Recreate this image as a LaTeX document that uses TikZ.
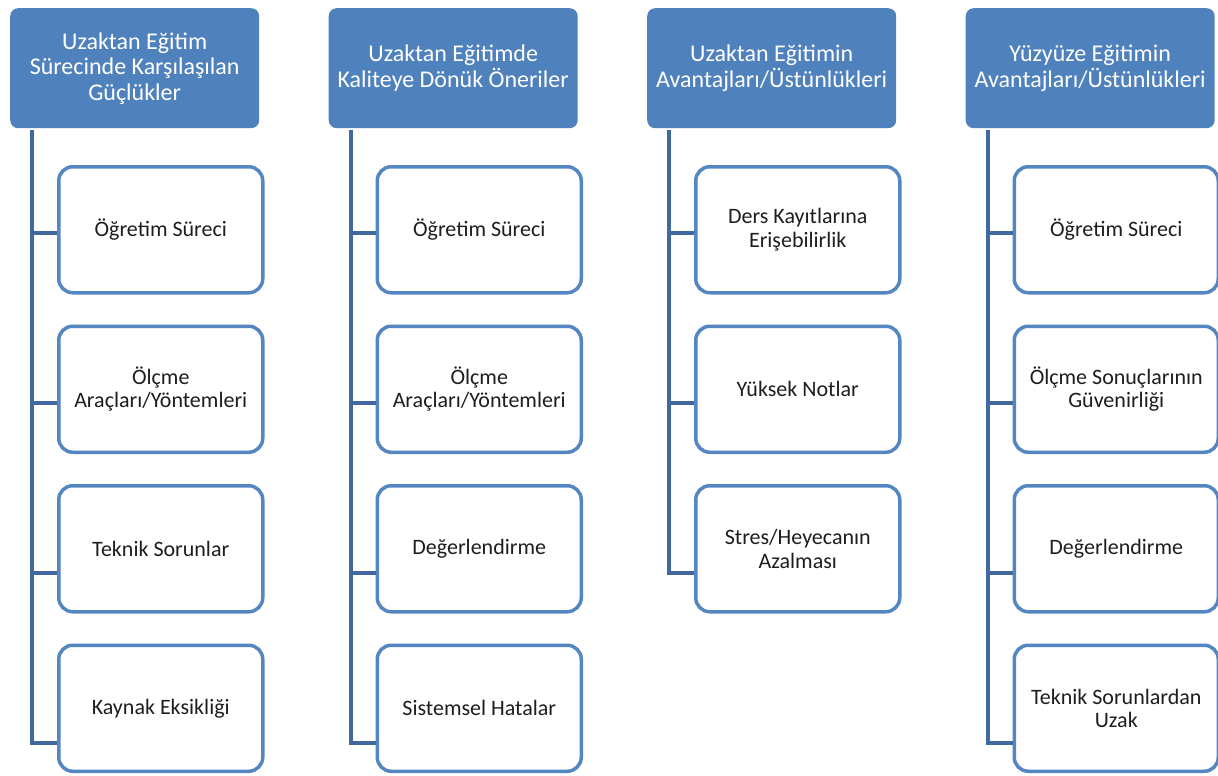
\documentclass[tikz,border=0pt]{standalone}
\usepackage{fontspec}
\setmainfont{Carlito}
\definecolor{hdr}{RGB}{79,129,189}
\definecolor{bx}{RGB}{84,134,194}
\definecolor{conn}{RGB}{65,105,160}
\definecolor{txt}{RGB}{30,30,30}
\begin{document}
\begin{tikzpicture}[x=1pt,y=-1pt,
  hdrbox/.style={rectangle,rounded corners=8pt,fill=hdr,draw=none,minimum width=249pt,minimum height=120pt,
    inner sep=0pt,align=center,text=white,font=\fontsize{24}{25.5}\selectfont,anchor=north west},
  childbox/.style={rectangle,rounded corners=14pt,fill=white,draw=bx,line width=3.5pt,minimum width=204pt,
    minimum height=126pt,inner sep=0pt,align=center,text=txt,font=\fontsize{22}{23.5}\selectfont,anchor=north west},
  conline/.style={draw=conn,line width=4pt,line join=miter}]
\useasboundingbox (0,0) rectangle (1218,776);

% headers
\node[hdrbox] (h1) at (10,8) {Uzaktan Eğitim\\Sürecinde Karşılaşılan\\Güçlükler};
\node[hdrbox] (h2) at (328.5,8) {Uzaktan Eğitimde\\Kaliteye Dönük Öneriler};
\node[hdrbox] (h3) at (647,8) {Uzaktan Eğitimin\\Avantajları/Üstünlükleri};
\node[hdrbox] (h4) at (965.5,8) {Yüzyüze Eğitimin\\Avantajları/Üstünlükleri};

% column 1
\node[childbox] (a1) at (57,165) {Öğretim Süreci};
\node[childbox] (a2) at (57,324.5) {Ölçme\\Araçları/Yöntemleri};
\node[childbox] (a3) at (57,484) {Teknik Sorunlar};
\node[childbox] (a4) at (57,643.5) {Kaynak Eksikliği};
% column 2
\node[childbox] (b1) at (375.5,165) {Öğretim Süreci};
\node[childbox] (b2) at (375.5,324.5) {Ölçme\\Araçları/Yöntemleri};
\node[childbox] (b3) at (375.5,484) {Değerlendirme};
\node[childbox] (b4) at (375.5,643.5) {Sistemsel Hatalar};
% column 3
\node[childbox] (c1) at (694,165) {Ders Kayıtlarına\\Erişebilirlik};
\node[childbox] (c2) at (694,324.5) {Yüksek Notlar};
\node[childbox] (c3) at (694,484) {Stres/Heyecanın\\Azalması};
% column 4
\node[childbox] (d1) at (1012.5,165) {Öğretim Süreci};
\node[childbox] (d2) at (1012.5,324.5) {Ölçme Sonuçlarının\\Güvenirliği};
\node[childbox] (d3) at (1012.5,484) {Değerlendirme};
\node[childbox] (d4) at (1012.5,643.5) {Teknik Sorunlardan\\Uzak};

% connector coordinates
\coordinate (ta) at (32,130);   \coordinate (ea) at (32,743);
\coordinate (tb) at (350.5,130); \coordinate (eb) at (350.5,743);
\coordinate (tc) at (669,130);  \coordinate (ec) at (669,573);
\coordinate (td) at (987.5,130); \coordinate (ed) at (987.5,743);

\foreach \col/\n in {a/4,b/4,d/4}{
  \draw[conline] (t\col) -- (e\col) -- (e\col -| \col\n.west);
  \draw[conline] (t\col |- 0,233) -- (\col1.west |- 0,233);
  \draw[conline] (t\col |- 0,403) -- (\col2.west |- 0,403);
  \draw[conline] (t\col |- 0,573) -- (\col3.west |- 0,573);
}
\draw[conline] (tc) -- (ec) -- (ec -| c3.west);
\draw[conline] (tc |- 0,233) -- (c1.west |- 0,233);
\draw[conline] (tc |- 0,403) -- (c2.west |- 0,403);
\end{tikzpicture}
\end{document}
